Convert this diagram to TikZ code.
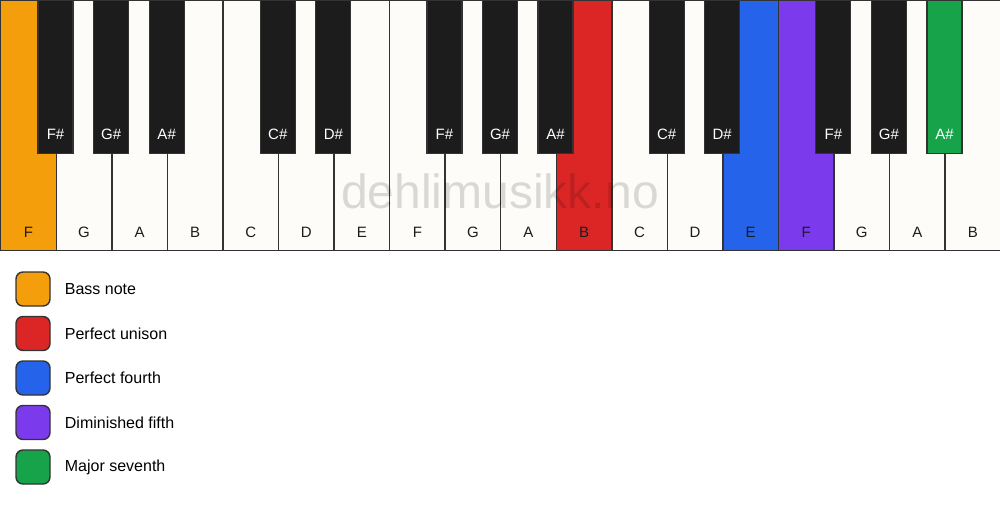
\documentclass[tikz,border=0pt]{standalone}
\usepackage{fontspec}
\setmainfont{Liberation Sans}
\usetikzlibrary{positioning}
\definecolor{keywhite}{HTML}{FDFCF9}
\definecolor{keyblack}{HTML}{1C1C1C}
\definecolor{keyline}{HTML}{333333}
\definecolor{bass}{HTML}{F59E0B}
\definecolor{unison}{HTML}{DC2626}
\definecolor{fourth}{HTML}{2563EB}
\definecolor{dimfifth}{HTML}{7C3AED}
\definecolor{majseventh}{HTML}{16A34A}
\tikzset{
  whitekey/.style={draw=keyline, line width=1.4pt, minimum width=55.556pt, minimum height=250pt, inner sep=0pt, anchor=north west},
  blackkey/.style={draw=keyline, line width=1.2pt, minimum width=35pt, minimum height=153pt, inner sep=0pt, anchor=north},
  keytext/.style={font=\fontsize{15}{18}\selectfont, inner sep=0pt, text height=11pt, text depth=0pt},
  legendbox/.style={draw=keyline, line width=1.4pt, rounded corners=7pt, minimum size=34pt, inner sep=0pt},
  legendtext/.style={font=\fontsize{16}{19}\selectfont, inner sep=0pt, anchor=west},
  watermark/.style={font=\fontsize{48}{56}\selectfont, text=black, text opacity=0.14, inner sep=0pt}
}
\begin{document}
\begin{tikzpicture}[x=1pt, y=-1pt]
  \useasboundingbox[fill=white] (0,0) rectangle (1000,506);
  \foreach \n/\c [count=\i from 0] in {F/bass,G/keywhite,A/keywhite,B/keywhite,C/keywhite,D/keywhite,E/keywhite,F/keywhite,G/keywhite,A/keywhite,B/unison,C/keywhite,D/keywhite,E/fourth,F/dimfifth,G/keywhite,A/keywhite,B/keywhite}{
    \node[whitekey, fill=\c] (w\i) at (\i*55.556,0) {};
    \node[keytext, text=keyblack] (wl\i) at ([yshift=19pt]w\i.south) {\n};
  }
  \foreach \n/\i/\c in {F\#/0/keyblack,G\#/1/keyblack,A\#/2/keyblack,C\#/4/keyblack,D\#/5/keyblack,F\#/7/keyblack,G\#/8/keyblack,A\#/9/keyblack,C\#/11/keyblack,D\#/12/keyblack,F\#/14/keyblack,G\#/15/keyblack,A\#/16/majseventh}{
    \node[blackkey, fill=\c] (b\i) at ({(\i+1)*55.556},0) {};
    \node[keytext, text=white] (bl\i) at ([yshift=20pt]b\i.south) {\n};
  }
  \node[watermark] (mark) at (500,191) {dehlimusikk.no};
  \foreach \t/\c [count=\j from 0] in {Bass note/bass,Perfect unison/unison,Perfect fourth/fourth,Diminished fifth/dimfifth,Major seventh/majseventh}{
    \node[legendbox, fill=\c] (box\j) at (33,289+\j*44.5) {};
    \node[legendtext, right=14pt of box\j] (txt\j) {\t};
  }
\end{tikzpicture}
\end{document}
